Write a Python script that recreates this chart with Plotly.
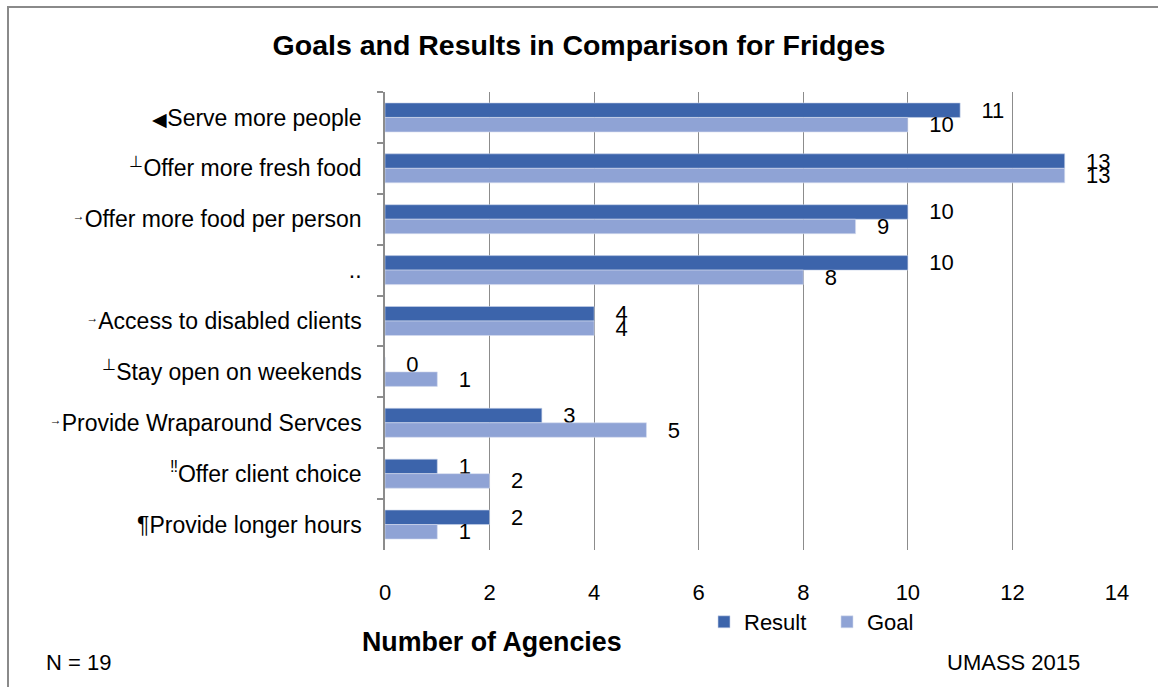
import plotly.graph_objects as go

# Small marker glyphs that precede some category names
ARROW = "<span style='font-size:17px'><sup>→</sup></span>"
TRI = "<span style='font-size:19px'>◀</span>"

# Categories, listed top to bottom
categories = [
    TRI + "Serve more people",
    "<sup>⊥</sup>Offer more fresh food",
    ARROW + "Offer more food per person",
    "..",
    ARROW + "Access to disabled clients",
    "<sup>⊥</sup>Stay open on weekends",
    ARROW + "Provide Wraparound Servces",
    "<sup>‼</sup>Offer client choice",
    "¶Provide longer hours",
]
result_values = [11, 13, 10, 10, 4, 0, 3, 1, 2]
goal_values = [10, 13, 9, 8, 4, 1, 5, 2, 1]
x_ticks = [0, 2, 4, 6, 8, 10, 12, 14]

FONT = "Liberation Sans, Arial, sans-serif"
GRID = "#8c8c8c"
FS = 23

fig = go.Figure()
fig.add_trace(go.Bar(
    name="Result", y=categories, x=result_values, orientation="h",
    marker=dict(color="#3c64ab", line=dict(color="#c9d3ea", width=0.6)),
    text=result_values, texttemplate="\u00a0\u00a0\u00a0%{x}",
    textposition="outside", constraintext="none",
    textfont=dict(size=FS - 1, color="#000000"),
    cliponaxis=False,
))
fig.add_trace(go.Bar(
    name="Goal", y=categories, x=goal_values, orientation="h",
    marker=dict(color="#8fa3d5", line=dict(color="#d5dcef", width=0.6)),
    text=goal_values, texttemplate="\u00a0\u00a0\u00a0%{x}",
    textposition="outside", constraintext="none",
    textfont=dict(size=FS - 1, color="#000000"),
    cliponaxis=False,
))

W, H = 1158, 687
L, R, T, B = 385, 41, 92, 137
pw, ph = W - L - R, H - T - B


def px(x):
    return (x - L) / pw


def py(y):
    return (H - B - y) / ph


fig.update_layout(
    width=W, height=H,
    margin=dict(l=L, r=R, t=T, b=B),
    paper_bgcolor="white", plot_bgcolor="white",
    font=dict(family=FONT, size=FS, color="#000000"),
    barmode="group", bargap=0.43, bargroupgap=0,
    title=dict(
        text="<b>Goals and Results in Comparison for Fridges</b>",
        x=0.5, xref="container", xanchor="center",
        y=1 - 45 / H, yref="container", yanchor="middle",
        font=dict(size=28.5, family=FONT, color="#000000"),
    ),
    xaxis=dict(
        range=[0, 14], tickvals=x_ticks, ticktext=[str(v) for v in x_ticks],
        showgrid=True, gridcolor=GRID, gridwidth=1.2,
        zeroline=False, showline=False, ticks="",
        ticklabelstandoff=27, tickfont=dict(size=FS - 1),
    ),
    yaxis=dict(
        autorange="reversed", showline=True, linecolor=GRID, linewidth=1.5,
        ticks="outside", ticklen=6, tickcolor=GRID, tickwidth=1.5,
        tickson="boundaries", showgrid=False, ticklabelstandoff=17,
        tickfont=dict(size=FS),
    ),
    legend=dict(
        orientation="h", x=px(704), xanchor="left",
        y=py(622), yanchor="middle", entrywidth=78,
        font=dict(size=FS - 1), itemwidth=30, bgcolor="rgba(0,0,0,0)",
    ),
    shapes=[dict(
        type="rect", xref="paper", yref="paper",
        x0=px(8), x1=px(1165), y0=py(695), y1=py(7),
        line=dict(color="#8a8a8a", width=2), fillcolor="rgba(0,0,0,0)",
        layer="below",
    )],
    annotations=[
        dict(text="<b>Number of Agencies</b>", xref="paper", yref="paper",
             x=px(492), y=py(642), xanchor="center", yanchor="middle",
             showarrow=False, font=dict(size=26.8)),
        dict(text="N = 19", xref="paper", yref="paper",
             x=px(44), y=py(662), xanchor="left", yanchor="middle",
             showarrow=False, font=dict(size=FS - 1)),
        dict(text="UMASS 2015", xref="paper", yref="paper",
             x=px(1082), y=py(662), xanchor="right", yanchor="middle",
             showarrow=False, font=dict(size=FS - 1)),
    ],
)

fig.write_html("out.html")
